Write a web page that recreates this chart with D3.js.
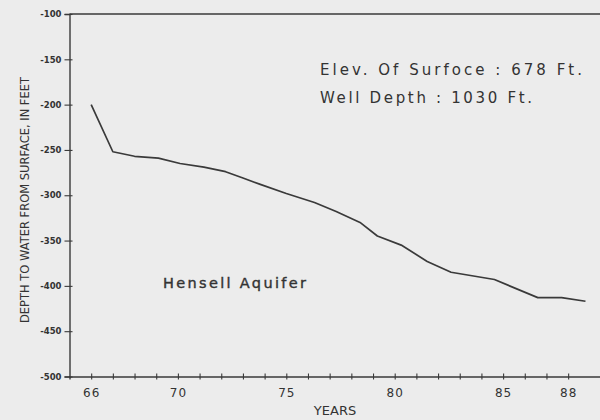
<!DOCTYPE html>
<html>
<head>
<meta charset="utf-8">
<script src="https://cdn.jsdelivr.net/npm/d3@7"></script>
<style>
  html, body { margin: 0; padding: 0; background: #ececec; }
  svg { display: block; }
  text { font-family: "DejaVu Sans", Verdana, sans-serif; fill: #333; }
</style>
</head>
<body>
<svg id="chart" width="600" height="420"></svg>
<script>
// Data
const years = [66.0, 67.0, 68.0, 69.1, 70.1, 71.2, 72.2, 73.0, 73.8, 75.0, 76.3, 77.3, 78.4, 79.2, 80.3, 81.5, 82.6, 84.6, 86.6, 87.7, 88.8];
const depths = [-200, -252, -257, -259, -265, -269, -274, -281, -288, -298, -308, -318, -330, -345, -355, -373, -385, -393, -413, -413, -417];
const xTickYears = d3.range(66, 89);
const xLabelYears = [66, 70, 75, 80, 85, 88];
const yTicks = [-100, -150, -200, -250, -300, -350, -400, -450, -500];

const svg = d3.select("#chart");
const ink = "#3a3a3a";

const x = d3.scaleLinear().domain([65, 90]).range([69.5, 611.5]);
const y = d3.scaleLinear().domain([-500, -100]).range([376.5, 14]);

// frame: top line
svg.append("line")
  .attr("x1", x(65)).attr("x2", x(90)).attr("y1", y(-100)).attr("y2", y(-100))
  .attr("stroke", ink).attr("stroke-width", 1.4);

// Y axis
const yAxis = svg.append("g")
  .attr("transform", `translate(${x(65)},0)`)
  .call(d3.axisLeft(y).tickValues(yTicks).tickSize(5).tickPadding(3).tickFormat(d => String(d)));
yAxis.select(".domain").attr("stroke", ink).attr("stroke-width", 1.4);
yAxis.selectAll(".tick line").attr("x1", 3).attr("x2", -5).attr("stroke", ink).attr("stroke-width", 1.1);
yAxis.selectAll(".tick text").attr("font-size", 8.5).attr("fill", "#444")
  .attr("font-family", "'DejaVu Sans', sans-serif").attr("font-weight", "bold");

// X axis
const xAxis = svg.append("g")
  .attr("transform", `translate(0,${y(-500)})`)
  .call(d3.axisBottom(x).tickValues(xTickYears).tickSize(3).tickPadding(9)
    .tickFormat(d => xLabelYears.includes(d) ? String(d) : ""));
xAxis.select(".domain").attr("stroke", ink).attr("stroke-width", 1.4);
xAxis.selectAll(".tick line").attr("y1", -3).attr("y2", 3).attr("stroke", ink).attr("stroke-width", 1.1);
xAxis.selectAll(".tick text").attr("font-size", 12).attr("fill", "#333")
  .attr("font-family", "'DejaVu Sans', sans-serif").attr("letter-spacing", 1);

// Data line
const pts = years.map((yr, i) => [yr, depths[i]]);
svg.append("path")
  .datum(pts)
  .attr("fill", "none")
  .attr("stroke", ink)
  .attr("stroke-width", 1.7)
  .attr("stroke-linejoin", "round")
  .attr("d", d3.line().x(d => x(d[0])).y(d => y(d[1])));

// Axis titles
svg.append("text")
  .attr("transform", "translate(29,200) rotate(-90)")
  .attr("text-anchor", "middle")
  .attr("font-size", 12)
  .attr("font-family", "'Liberation Sans', Arial, sans-serif")
  .attr("textLength", 246).attr("lengthAdjust", "spacingAndGlyphs")
  .text("DEPTH TO WATER FROM SURFACE, IN FEET");

svg.append("text")
  .attr("x", 335).attr("y", 415)
  .attr("text-anchor", "middle")
  .attr("font-size", 13)
  .attr("font-family", "'Liberation Sans', Arial, sans-serif")
  .text("YEARS");

// Annotations
svg.append("text")
  .attr("x", 320).attr("y", 75)
  .attr("font-size", 15)
  .attr("textLength", 262).attr("lengthAdjust", "spacing")
  .text("Elev. Of Surfoce : 678 Ft.");

svg.append("text")
  .attr("x", 320).attr("y", 102.5)
  .attr("font-size", 15)
  .attr("textLength", 212).attr("lengthAdjust", "spacing")
  .text("Well Depth : 1030 Ft.");

svg.append("text")
  .attr("x", 163).attr("y", 288)
  .attr("font-size", 14.5)
  .attr("fill", "#333").attr("stroke", "#333").attr("stroke-width", 0.4)
  .attr("textLength", 143).attr("lengthAdjust", "spacing")
  .text("Hensell Aquifer");
</script>
</body>
</html>
